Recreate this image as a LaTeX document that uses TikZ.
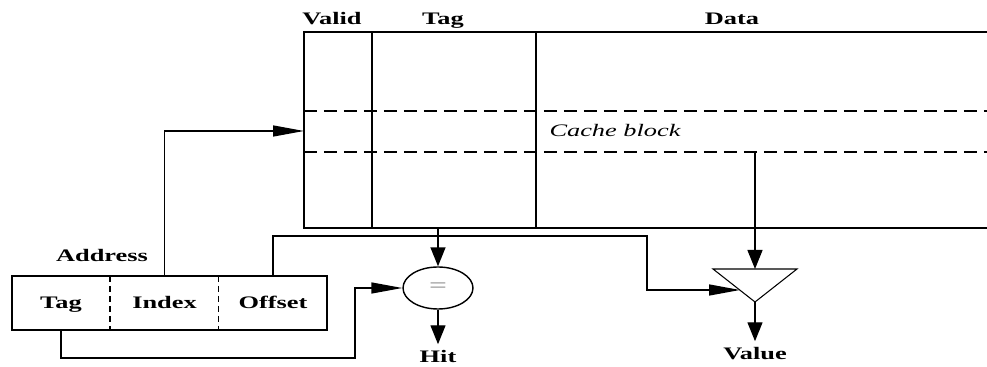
\documentclass[tikz,border=0pt]{standalone}
\usepackage{fontspec}
\setmainfont{Liberation Serif}[FakeStretch=1.5]
\usetikzlibrary{arrows.meta,positioning,shapes.geometric}

\begin{document}
\begin{tikzpicture}[x=0.02cm, y=-0.02cm, line width=0.8pt,
		lbl/.style={font=\bfseries, anchor=base},
		field/.style={rectangle, minimum height=1.08cm, inner sep=0pt, outer sep=0pt,
			text height=8pt, text depth=1.2pt, font=\bfseries},
		harrow/.style={-{Triangle[length=0.62cm, width=0.22cm]}},
		varrow/.style={-{Triangle[length=0.38cm, width=0.3cm]}},
		longdash/.style={dash pattern=on 0.26cm off 0.14cm},
		shortdash/.style={line width=0.6pt, dash pattern=on 0.12cm off 0.08cm}]

		\useasboundingbox (0,0) rectangle (987,367);

		% cache
		\draw (987,32) -- (304,32) -- (304,228) -- (987,228);
		\draw (372,32) -- (372,228);
		\draw (536,32) -- (536,228);
		\draw[longdash] (304,111) -- (987,111);
		\draw[longdash] (304,152) -- (987,152);

		\node(valid-hdr)[lbl] at (332,25) {Valid};
		\node(tag-hdr)[lbl] at (443,25) {Tag};
		\node(data-hdr)[lbl] at (732,25) {Data};
		\node(block)[font=\itshape, anchor=base] at (615,137) {Cache block};

		\coordinate (idx-in) at (304,131);
		\coordinate (tag-out) at (438,228);
		\coordinate (data-out) at (755,152);

		% address
		\node(addr-tag)[field, minimum width=1.96cm] at (61,303) {Tag};
		\node(addr-index)[field, minimum width=2.18cm, right=0pt of addr-tag] {Index};
		\node(addr-offset)[field, minimum width=2.16cm, right=0pt of addr-index] {Offset};
		\draw (addr-tag.north west) rectangle (addr-offset.south east);
		\draw[shortdash] (addr-index.north west) -- (addr-index.south west);
		\draw[shortdash] (addr-index.north east) -- (addr-index.south east);
		\node(address)[lbl] at (102,262) {Address};

		% compare and select
		\node(cmp)[ellipse, draw, minimum width=1.4cm, minimum height=0.84cm, inner sep=0pt,
			text=black!45, font=\large] at (438,288) {=};
		\coordinate (mux-l) at (713,269);
		\coordinate (mux-r) at (797,269);
		\coordinate (mux-out) at (755,302);
		\coordinate (mux-top) at (755,269);
		\coordinate (mux-in) at (740,290);
		\draw[line width=0.6pt] (mux-l) -- (mux-r) -- (mux-out) -- cycle;

		\node(hit)[lbl] at (438,363) {Hit};
		\node(value)[lbl] at (755,360) {Value};

		\coordinate (tag-bend) at (355,358);
		\coordinate (off-bend) at (647,236);

		\draw[harrow] (addr-index.north) |- (idx-in);
		\draw[harrow] (addr-tag.south) |- (tag-bend) |- (cmp.west);
		\draw[harrow] (addr-offset.north) |- (off-bend) |- (mux-in);
		\draw[varrow] (tag-out) -- (cmp.north);
		\draw[varrow] (data-out) -- (mux-top);
		\draw[varrow] (cmp.south) -- (hit);
		\draw[varrow] (mux-out) -- (value);
	\end{tikzpicture}
\end{document}
